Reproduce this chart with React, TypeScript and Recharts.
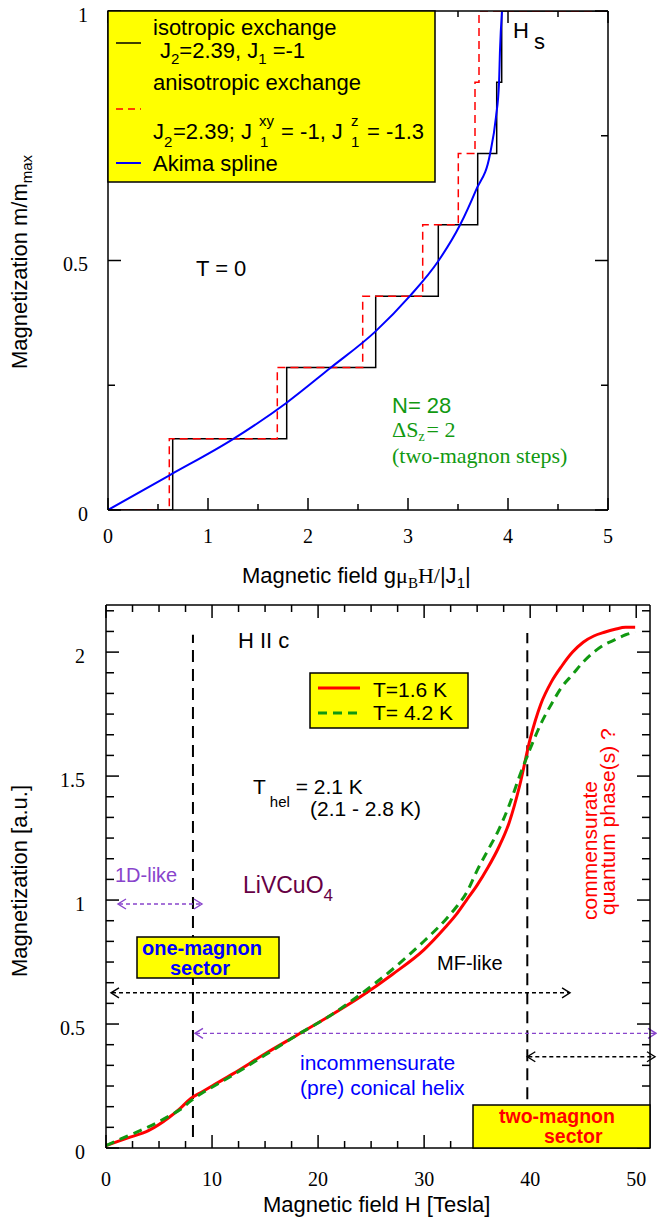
import React from 'react';
import { ComposedChart, Line, XAxis, YAxis, ReferenceLine } from 'recharts';

const SANS = '"Liberation Sans", Arial, sans-serif';
const SERIF = '"Liberation Serif", "Times New Roman", serif';
const PURPLE = '#8844cc';
const GREEN = '#119911';

// ---- upper panel: exact diagonalisation, N = 28, T = 0
const stepLevels = [0, 1 / 7, 2 / 7, 3 / 7, 4 / 7, 5 / 7, 6 / 7, 1, 1];
const isoFields = [0, 0.647, 1.787, 2.677, 3.303, 3.697, 3.887, 3.937, 5];
const anisoFields = [0, 0.613, 1.693, 2.547, 3.147, 3.503, 3.67, 3.71, 5];
const akimaH = [0, 0.61, 1.25, 1.78, 2.22, 2.67, 3.02, 3.3, 3.52, 3.68, 3.82, 3.88, 3.91, 3.92, 3.94];
const akimaM = [0, 0.069, 0.142, 0.214, 0.284, 0.357, 0.429, 0.498, 0.571, 0.641, 0.713, 0.788, 0.855, 0.922, 1.0];
const hTicks = [0, 0.5, 1, 1.5, 2, 2.5, 3, 3.5, 4, 4.5, 5];
const mTicks = [0, 0.25, 0.5, 0.75, 1];

// ---- lower panel: LiVCuO4, H || c
const fieldT = [0, 2, 4, 6, 7, 8, 9, 10, 12, 15, 18, 21, 24, 27, 30, 32, 33, 34, 35, 36, 37, 38, 39, 40, 41, 42, 43, 44, 45, 46, 47, 48, 49, 49.9];
const mag16K = [0.01, 0.04, 0.07, 0.125, 0.16, 0.2, 0.225, 0.25, 0.3, 0.38, 0.455, 0.53, 0.61, 0.7, 0.8, 0.89, 0.94, 1.0, 1.06, 1.13, 1.21, 1.31, 1.46, 1.65, 1.79, 1.88, 1.945, 2.0, 2.04, 2.065, 2.08, 2.092, 2.1, 2.1];
const mag42K = [0.01, 0.048, 0.085, 0.13, 0.155, 0.19, 0.22, 0.245, 0.295, 0.375, 0.455, 0.53, 0.62, 0.72, 0.835, 0.92, 0.97, 1.03, 1.12, 1.2, 1.28, 1.38, 1.5, 1.61, 1.71, 1.79, 1.86, 1.91, 1.96, 2.0, 2.03, 2.05, 2.07, 2.08];
const teslaTicks = [0, 2.5, 5, 7.5, 10, 12.5, 15, 17.5, 20, 22.5, 25, 27.5, 30, 32.5, 35, 37.5, 40, 42.5, 45, 47.5, 50];
const auTicks = Array.from({ length: 27 }, (_, k) => k / 12);

// sector boundaries (T) and range arrows
const hOneMagnon = 8.2;
const hTwoMagnon = 39.73;
const arrows = [
  { from: 1.13, to: 9.05, m: 0.984, color: PURPLE },
  { from: 0.47, to: 43.76, m: 0.626, color: '#000' },
  { from: 8.39, to: 51.87, m: 0.4625, color: PURPLE },
  { from: 39.73, to: 51.77, m: 0.368, color: '#000' },
];

const isoData = isoFields.map((h, i) => ({ h, m: stepLevels[i] }));
const anisoData = anisoFields.map((h, i) => ({ h, m: stepLevels[i] }));
const akimaData = akimaH.map((h, i) => ({ h, m: akimaM[i] }));
const livcuoData = fieldT.map((h, i) => ({ h, low: mag16K[i], high: mag42K[i] }));

const isHalf = (v: number) => Math.abs(v * 2 - Math.round(v * 2)) < 1e-6;
const isInt = (v: number) => Math.abs(v - Math.round(v)) < 1e-6;
const isTen = (v: number) => Math.abs(v / 10 - Math.round(v / 10)) < 1e-6;

type Side = 'bottom' | 'top' | 'left' | 'right';

// ticks point inward, labels only on bottom/left majors
function makeTick(side: Side, major: (v: number) => boolean, big: number, small: number, fmt?: (v: number) => string, off = 0) {
  // eslint-disable-next-line @typescript-eslint/no-explicit-any
  return (p: any) => {
    const { x, y, payload } = p;
    const v = payload.value as number;
    const len = major(v) ? big : small;
    const d = side === 'bottom' ? [0, -len] : side === 'top' ? [0, len] : side === 'left' ? [len, 0] : [-len, 0];
    let label = null;
    if (fmt && major(v)) {
      label = side === 'bottom'
        ? <text x={x} y={y + off} textAnchor="middle" fontFamily={SERIF} fontSize={20} fill="#000">{fmt(v)}</text>
        : <text x={x - off} y={y + 10.5} textAnchor="end" fontFamily={SERIF} fontSize={20} fill="#000">{fmt(v)}</text>;
    }
    return (
      <g>
        <line x1={x} y1={y} x2={x + d[0]} y2={y + d[1]} stroke="#000" strokeWidth={1.5} />
        {label}
      </g>
    );
  };
}

// eslint-disable-next-line @typescript-eslint/no-explicit-any
const arrowShape = (p: any) => {
  const { x1, y1, x2, stroke } = p;
  const a = Math.min(x1, x2);
  const b = Math.max(x1, x2);
  return (
    <g>
      <line x1={a + 1} y1={y1} x2={b - 1} y2={y1} stroke={stroke} strokeWidth={1.4} strokeDasharray="4 3" />
      <polyline points={`${a + 8},${y1 - 5} ${a},${y1} ${a + 8},${y1 + 5}`} fill="none" stroke={stroke} strokeWidth={1.4} />
      <polyline points={`${b - 8},${y1 - 5} ${b},${y1} ${b - 8},${y1 + 5}`} fill="none" stroke={stroke} strokeWidth={1.4} />
    </g>
  );
};

const axisStroke = { stroke: '#000', strokeWidth: 1.5 };

function UpperChart() {
  return (
    <ComposedChart width={657} height={600} data={isoData} margin={{ top: 10, right: 48, bottom: 0, left: 0 }}>
      <XAxis xAxisId="b" dataKey="h" type="number" domain={[0, 5]} allowDataOverflow ticks={hTicks} interval={0}
        height={90} tickSize={0} tickMargin={0} tickLine={false} axisLine={axisStroke}
        tick={makeTick('bottom', isInt, 12, 6, v => String(v), 33)} />
      <XAxis xAxisId="t" orientation="top" dataKey="h" type="number" domain={[0, 5]} allowDataOverflow ticks={hTicks} interval={0}
        height={1} tickSize={0} tickMargin={0} tickLine={false} axisLine={axisStroke}
        tick={makeTick('top', isInt, 12, 6)} />
      <YAxis yAxisId="l" type="number" domain={[0, 1]} allowDataOverflow ticks={mTicks} interval={0}
        width={108} tickSize={0} tickMargin={0} tickLine={false} axisLine={axisStroke}
        tick={makeTick('left', isHalf, 13, 7, v => String(v), 20)} />
      <YAxis yAxisId="r" orientation="right" type="number" domain={[0, 1]} allowDataOverflow ticks={mTicks} interval={0}
        width={1} tickSize={0} tickMargin={0} tickLine={false} axisLine={axisStroke}
        tick={makeTick('right', isHalf, 13, 7)} />
      <Line xAxisId="b" yAxisId="l" data={isoData} dataKey="m" type="stepAfter" stroke="#000" strokeWidth={1.5} dot={false} isAnimationActive={false} />
      <Line xAxisId="b" yAxisId="l" data={anisoData} dataKey="m" type="stepAfter" stroke="#ff0000" strokeWidth={1.5} strokeDasharray="8 5" dot={false} isAnimationActive={false} />
      <Line xAxisId="b" yAxisId="l" data={akimaData} dataKey="m" type="monotone" stroke="#0000ff" strokeWidth={2} dot={false} isAnimationActive={false} />
    </ComposedChart>
  );
}

function LowerChart() {
  return (
    <ComposedChart width={657} height={619} data={livcuoData} margin={{ top: 4, right: 6, bottom: 0, left: 0 }}>
      <XAxis xAxisId="b" dataKey="h" type="number" domain={[0, 51.3]} allowDataOverflow ticks={teslaTicks} interval={0}
        height={71} tickSize={0} tickMargin={0} tickLine={false} axisLine={axisStroke}
        tick={makeTick('bottom', isTen, 13, 7, v => String(v), 38)} />
      <XAxis xAxisId="t" orientation="top" dataKey="h" type="number" domain={[0, 51.3]} allowDataOverflow ticks={teslaTicks} interval={0}
        height={1} tickSize={0} tickMargin={0} tickLine={false} axisLine={axisStroke}
        tick={makeTick('top', isTen, 13, 7)} />
      <YAxis yAxisId="l" type="number" domain={[0, 2.19]} allowDataOverflow ticks={auTicks} interval={0}
        width={106} tickSize={0} tickMargin={0} tickLine={false} axisLine={axisStroke}
        tick={makeTick('left', isHalf, 13, 8, v => String(Math.round(v * 2) / 2), 21)} />
      <YAxis yAxisId="r" orientation="right" type="number" domain={[0, 2.19]} allowDataOverflow ticks={auTicks} interval={0}
        width={1} tickSize={0} tickMargin={0} tickLine={false} axisLine={axisStroke}
        tick={makeTick('right', isHalf, 13, 8)} />
      <ReferenceLine xAxisId="b" yAxisId="l" segment={[{ x: hOneMagnon, y: 0.044 }, { x: hOneMagnon, y: 2.07 }]}
        stroke="#000" strokeWidth={2} strokeDasharray="12 7" ifOverflow="visible" />
      <ReferenceLine xAxisId="b" yAxisId="l" segment={[{ x: hTwoMagnon, y: 0.12 }, { x: hTwoMagnon, y: 2.077 }]}
        stroke="#000" strokeWidth={2} strokeDasharray="12 7" ifOverflow="visible" />
      {arrows.map((a, i) => (
        <ReferenceLine key={i} xAxisId="b" yAxisId="l" segment={[{ x: a.from, y: a.m }, { x: a.to, y: a.m }]}
          stroke={a.color} ifOverflow="visible" shape={arrowShape} />
      ))}
      <Line xAxisId="b" yAxisId="l" dataKey="low" type="monotone" stroke="#ff0000" strokeWidth={3} dot={false} isAnimationActive={false} />
      <Line xAxisId="b" yAxisId="l" dataKey="high" type="monotone" stroke={GREEN} strokeWidth={3} strokeDasharray="9 6" dot={false} isAnimationActive={false} />
    </ComposedChart>
  );
}

function Annotations() {
  return (
    <svg width={657} height={1219} style={{ position: 'absolute', left: 0, top: 0, pointerEvents: 'none', whiteSpace: 'pre' }}>
      {/* upper legend */}
      <rect x={108} y={11} width={327} height={171} fill="#ffff00" stroke="#000" strokeWidth={1.5} />
      <line x1={116} y1={43} x2={141} y2={43} stroke="#000" strokeWidth={1.5} />
      <line x1={116} y1={109} x2={141} y2={109} stroke="#ff0000" strokeWidth={1.5} strokeDasharray="7 5" />
      <line x1={116} y1={163} x2={141} y2={163} stroke="#0000ff" strokeWidth={2} />
      <g fontFamily={SANS} fontSize={22} fill="#000">
        <text x={153} y={35}>isotropic exchange</text>
        <text x={160} y={58}>J<tspan fontSize={15} dy={6}>2</tspan><tspan dy={-6}>=2.39, J</tspan><tspan fontSize={15} dy={6}>1</tspan><tspan dy={-6}> =-1</tspan></text>
        <text x={153} y={90}>anisotropic exchange</text>
        <text y={139}>
          <tspan x={153}>J</tspan>
          <tspan x={164} y={147} fontSize={15}>2</tspan>
          <tspan x={173} y={139}>=2.39; J</tspan>
          <tspan x={259} y={126} fontSize={15}>xy</tspan>
          <tspan x={260} y={147} fontSize={15}>1</tspan>
          <tspan x={275} y={139}> = -1, J</tspan>
          <tspan x={351} y={126} fontSize={15}>z</tspan>
          <tspan x={351} y={147} fontSize={15}>1</tspan>
          <tspan x={361} y={139}> = -1.3</tspan>
        </text>
        <text x={153} y={171}>Akima spline</text>
        <text x={513} y={38}>H</text>
        <text x={534} y={49}>s</text>
        <text x={196} y={276}>T = 0</text>
      </g>
      <g fill={GREEN}>
        <text x={392} y={413} fontFamily={SANS} fontSize={22}>N= 28</text>
        <text x={392} y={437} fontFamily={SERIF} fontSize={22}>ΔS<tspan fontSize={14} dy={4}>z</tspan><tspan dx={2} dy={-4}>= 2</tspan></text>
        <text x={392} y={463} fontFamily={SERIF} fontSize={22}>(two-magnon steps)</text>
      </g>
      {/* upper axis titles */}
      <text x={242} y={583} fontFamily={SANS} fontSize={22}>Magnetic field g<tspan fontFamily={SERIF}>μ</tspan><tspan fontFamily={SERIF} fontSize={15} dy={5}>B</tspan><tspan fontFamily={SERIF} dy={-5}>H/</tspan><tspan>|J</tspan><tspan fontSize={15} dy={5}>1</tspan><tspan dy={-5}>|</tspan></text>
      <text transform="translate(27,262) rotate(-90)" textAnchor="middle" fontFamily={SANS} fontSize={22}>Magnetization m/m<tspan fontSize={15} dy={5}>max</tspan></text>

      {/* lower panel */}
      <g fontFamily={SANS} fill="#000">
        <text x={238} y={648} fontSize={22}>H II c</text>
        <rect x={310} y={673} width={158} height={55} fill="#ffff00" stroke="#000" strokeWidth={1.5} />
        <line x1={318} y1={688} x2={360} y2={688} stroke="#ff0000" strokeWidth={3} />
        <line x1={318} y1={713} x2={360} y2={713} stroke={GREEN} strokeWidth={3} strokeDasharray="9 6" />
        <text x={373} y={697} fontSize={21}>T=1.6 K</text>
        <text x={373} y={720} fontSize={21}>T= 4.2 K</text>
        <text x={253} y={794} fontSize={21}>T<tspan fontSize={15} dx={4} dy={13}>hel</tspan><tspan dy={-13}> =  2.1 K</tspan></text>
        <text x={310} y={816} fontSize={21}>(2.1 - 2.8 K)</text>
        <text x={115} y={882} fontSize={20} fill={PURPLE}>1D-like</text>
        <text x={243} y={893} fontSize={23} fill="#660044">LiVCuO<tspan fontSize={17} dy={8}>4</tspan></text>
        <rect x={137} y={937} width={142} height={41} fill="#ffff00" stroke="#000" strokeWidth={1.5} />
        <text x={142} y={955} fontSize={20} fontWeight="bold" fill="#0000ff">one-magnon</text>
        <text x={170} y={975} fontSize={20} fontWeight="bold" fill="#0000ff">sector</text>
        <text x={437} y={970} fontSize={20}>MF-like</text>
        <text x={300} y={1070} fontSize={21} fill="#0000ff">incommensurate</text>
        <text x={300} y={1095} fontSize={21} fill="#0000ff">(pre) conical helix</text>
        <rect x={473} y={1105} width={177} height={43} fill="#ffff00" stroke="#000" strokeWidth={1.5} />
        <text x={499} y={1123} fontSize={19.5} fontWeight="bold" fill="#ff0000">two-magnon</text>
        <text x={544} y={1143} fontSize={19.5} fontWeight="bold" fill="#ff0000">sector</text>
        <text transform="translate(597,920) rotate(-90)" fontSize={21} fill="#ff0000">commensurate</text>
        <text transform="translate(615,915) rotate(-90)" fontSize={21} fill="#ff0000">quantum phase(s) ?</text>
        <text x={263} y={1212} fontSize={22}>Magnetic field H [Tesla]</text>
        <text transform="translate(27,881) rotate(-90)" textAnchor="middle" fontSize={22}>Magnetization [a.u.]</text>
      </g>
    </svg>
  );
}

export default function App() {
  return (
    <div style={{ position: 'absolute', left: 0, top: 0, width: 657, height: 1219, background: '#fff' }}>
      <UpperChart />
      <LowerChart />
      <Annotations />
    </div>
  );
}
